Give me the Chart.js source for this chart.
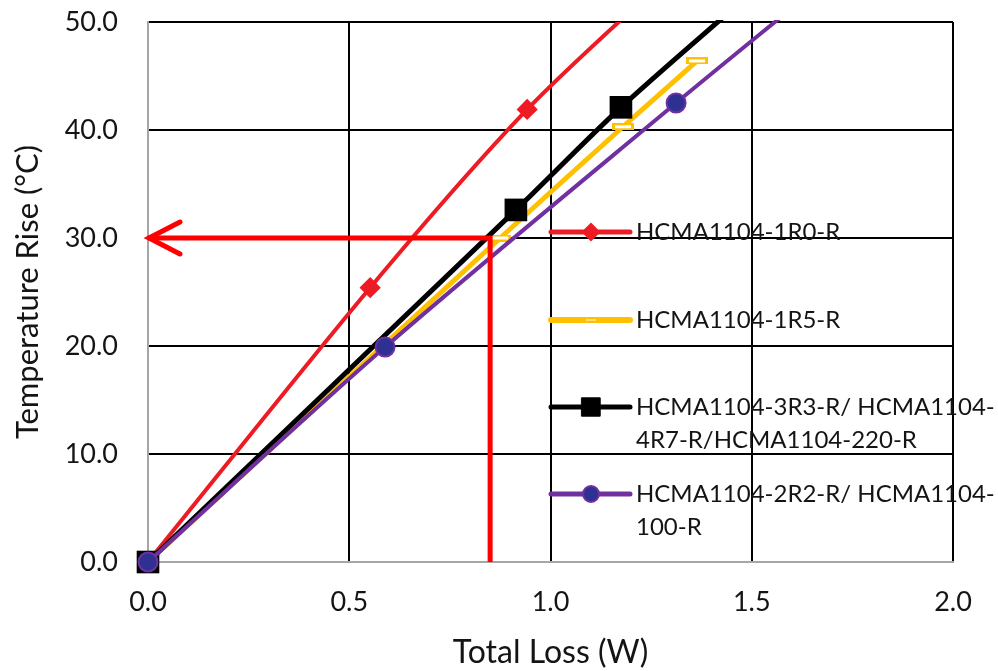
<!DOCTYPE html>
<html>
<head>
<meta charset="utf-8">
<script src="https://cdn.jsdelivr.net/npm/chart.js@4.4.1/dist/chart.umd.min.js"></script>
<style>
  html, body { margin: 0; padding: 0; background: #fff; }
  #wrap { width: 998px; height: 671px; }
</style>
</head>
<body>
<div id="wrap"><canvas id="c" width="998" height="671"></canvas></div>
<script>
'use strict';

// Total loss (W) -> temperature rise (°C).
// The last point of 1R0 / 3R3 / 2R2 sits above 50 °C and gets clipped, so the
// lines run off the top edge like in the original.
const loss1R0 = [0, 0.552, 0.942, 1.30];
const rise1R0 = [0, 25.4, 41.9, 54.5];

const loss1R5 = [0, 0.875, 1.180, 1.364];
const rise1R5 = [0, 30.0, 40.3, 46.4];

const loss3R3 = [0, 0.914, 1.175, 1.48];
const rise3R3 = [0, 32.6, 42.1, 52.1];

const loss2R2 = [0, 0.589, 1.312, 1.62];
const rise2R2 = [0, 19.9, 42.5, 51.9];

// Read-out example: 0.85 W -> 30 °C
const guideLoss = [0.85, 0.85, 0];
const guideRise = [0, 30, 30];

const xTicks = [0, 0.5, 1.0, 1.5, 2.0];
const yTicks = [0, 10, 20, 30, 40, 50];

const legendLabels = [
  ['HCMA1104-1R0-R'],
  ['HCMA1104-1R5-R'],
  ['HCMA1104-3R3-R/ HCMA1104-', '4R7-R/HCMA1104-220-R'],
  ['HCMA1104-2R2-R/ HCMA1104-', '100-R'],
];

const RED = '#ED1C24';
const YELLOW = '#FFC000';
const BLACK = '#000000';
const PURPLE = '#7030A0';
const DOT = '#2E3192';
const GUIDE = '#FF0000';
const AXIS = '#A6A6A6';
const INK = '#141414';

function pts(xs, ys) {
  return xs.map(function (x, i) { return { x: x, y: ys[i] }; });
}

// Excel's "dash" marker: a flat yellow bar with a white core.
function dashMarker(w, h) {
  const c = document.createElement('canvas');
  c.width = w; c.height = h;
  const g = c.getContext('2d');
  g.fillStyle = YELLOW;
  g.fillRect(0, 0, w, h);
  g.fillStyle = '#ffffff';
  g.fillRect(3, 2, w - 6, h - 4);
  return c;
}
const dashImg = dashMarker(22, 7);
const dashImgSmall = dashMarker(16, 5);

function series(label, data, color, width, style) {
  return Object.assign({
    label: label,
    data: data,
    borderColor: color,
    backgroundColor: color,
    borderWidth: width,
    tension: 0.3,
    fill: false,
    pointHoverRadius: 0,
  }, style);
}

// markers at the origin hang over the axes; keep the top/right clipped so the
// off-scale last points stay hidden
const originClip = { left: 14, bottom: 14, top: 2, right: 2 };

// ---------------------------------------------------------------- plugins
// Arrow head at the left end of the read-out line.
const arrowHead = {
  id: 'arrowHead',
  afterDatasetsDraw(chart) {
    const ctx = chart.ctx;
    const xs = chart.scales.x, ys = chart.scales.y;
    const tx = xs.getPixelForValue(guideLoss[2]);
    const ty = ys.getPixelForValue(guideRise[2]);
    ctx.save();
    ctx.strokeStyle = GUIDE;
    ctx.lineWidth = 5;
    ctx.lineCap = 'round';
    ctx.lineJoin = 'miter';
    ctx.beginPath();
    ctx.moveTo(tx + 32, ty - 16);
    ctx.lineTo(tx + 1, ty);
    ctx.lineTo(tx + 32, ty + 16);
    ctx.stroke();
    ctx.restore();
  },
};

// Legend drawn inside the plot, over the grid (no background box).
const innerLegend = {
  id: 'innerLegend',
  afterDraw(chart) {
    const ctx = chart.ctx;
    const rowsY = [232, 320, 407, 494];
    const keys = [
      { color: RED, width: 5, point: { pointStyle: 'rectRot', radius: 8, borderWidth: 2 } },
      { color: YELLOW, width: 6, point: { pointStyle: dashImgSmall, radius: 1, borderWidth: 0 } },
      { color: BLACK, width: 5, point: { pointStyle: 'rect', radius: 13, borderWidth: 1 } },
      { color: PURPLE, width: 5, point: { pointStyle: 'circle', radius: 8, borderWidth: 2 }, fill: DOT },
    ];
    ctx.save();
    legendLabels.forEach(function (lines, i) {
      const y = rowsY[i];
      const k = keys[i];
      ctx.strokeStyle = k.color;
      ctx.lineWidth = k.width;
      ctx.lineCap = 'round';
      ctx.beginPath();
      ctx.moveTo(551, y);
      ctx.lineTo(630, y);
      ctx.stroke();
      ctx.fillStyle = k.fill || k.color;
      ctx.strokeStyle = k.color;
      ctx.lineWidth = k.point.borderWidth;
      Chart.helpers.drawPoint(ctx, k.point, 591, y);
      ctx.fillStyle = INK;
      ctx.font = '24px Lato';
      ctx.textAlign = 'left';
      ctx.textBaseline = 'middle';
      lines.forEach(function (t, j) { ctx.fillText(t, 636, y + j * 33); });
    });
    ctx.restore();
  },
};

// ------------------------------------------------------------------ chart
Chart.defaults.font.family = 'Lato, "Open Sans", sans-serif';
Chart.defaults.color = INK;

new Chart(document.getElementById('c').getContext('2d'), {
  type: 'line',
  data: {
    datasets: [
      series('guide', pts(guideLoss, guideRise), GUIDE, 5, { tension: 0, pointRadius: 0, borderJoinStyle: 'miter' }),
      series(legendLabels[3].join(''), pts(loss2R2, rise2R2), PURPLE, 4,
        { pointStyle: 'circle', pointRadius: 9.5, pointBackgroundColor: DOT, pointBorderColor: PURPLE,
          pointBorderWidth: 2, clip: originClip }),
      series(legendLabels[2].join(''), pts(loss3R3, rise3R3), BLACK, 5,
        { pointStyle: 'rect', pointRadius: 16, pointBorderWidth: 0, clip: originClip }),
      series(legendLabels[1][0], pts(loss1R5, rise1R5), YELLOW, 5,
        { pointStyle: dashImg, pointRadius: 1 }),
      series(legendLabels[0][0], pts(loss1R0, rise1R0), RED, 4,
        { pointStyle: 'rectRot', pointRadius: 8.5, pointBorderWidth: 3 }),
    ],
  },
  options: {
    responsive: false,
    animation: false,
    events: [],
    layout: { padding: { top: 22, right: 45, left: 0, bottom: 0 } },
    plugins: { legend: { display: false }, tooltip: { enabled: false } },
    scales: {
      x: {
        type: 'linear',
        min: xTicks[0],
        max: xTicks[xTicks.length - 1],
        afterBuildTicks(s) { s.ticks = xTicks.map(function (v) { return { value: v }; }); },
        afterFit(s) { s.height = 109; s.paddingLeft = 0; s.paddingRight = 0; },
        ticks: {
          padding: 24,
          font: { size: 27 },
          color: INK,
          callback: function (v) { return Number(v).toFixed(1); },
        },
        grid: {
          color: function (c) { return c.tick && c.tick.value === 0 ? 'rgba(0,0,0,0)' : BLACK; },
          lineWidth: 2,
          drawTicks: false,
        },
        border: { color: AXIS, width: 2 },
        title: {
          display: true,
          text: 'Total Loss (W)',
          font: { size: 32, lineHeight: 1 },
          color: INK,
          padding: { top: 0, bottom: 2 },
        },
      },
      y: {
        type: 'linear',
        min: yTicks[0],
        max: yTicks[yTicks.length - 1],
        afterBuildTicks(s) { s.ticks = yTicks.map(function (v) { return { value: v }; }); },
        afterFit(s) { s.width = 148; s.paddingTop = 0; s.paddingBottom = 0; },
        ticks: {
          padding: 30,
          font: { size: 27 },
          color: INK,
          callback: function (v) { return Number(v).toFixed(1); },
        },
        grid: {
          color: function (c) { return c.tick && c.tick.value === 0 ? 'rgba(0,0,0,0)' : BLACK; },
          lineWidth: 2,
          drawTicks: false,
        },
        border: { color: AXIS, width: 2 },
        title: {
          display: true,
          text: 'Temperature Rise (°C)',
          font: { size: 31, lineHeight: 1 },
          color: INK,
          padding: { top: 12, bottom: 0 },
        },
      },
    },
  },
  plugins: [arrowHead, innerLegend],
});
</script>
</body>
</html>
